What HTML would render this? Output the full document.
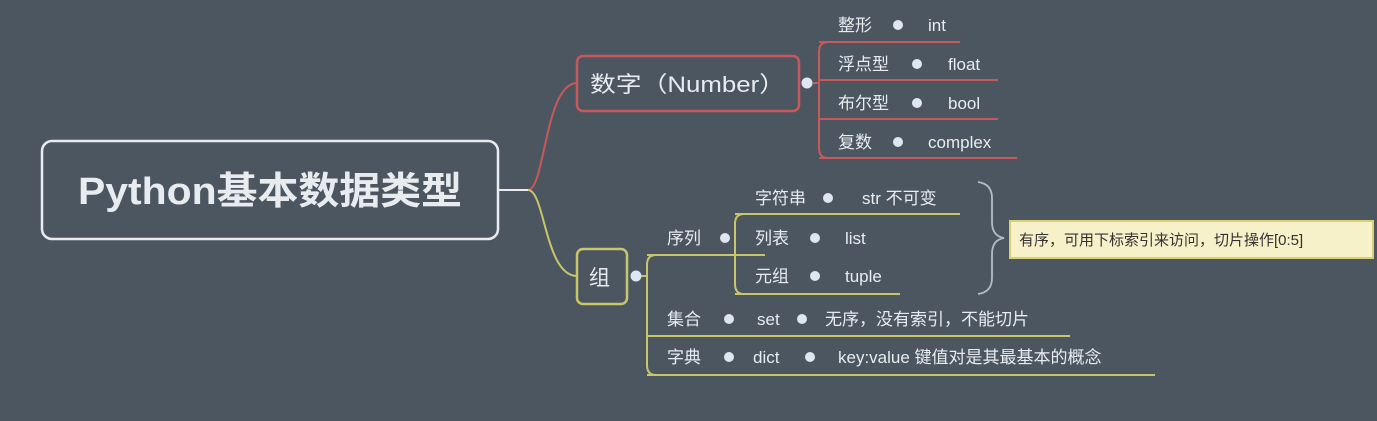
<!DOCTYPE html>
<html><head><meta charset="utf-8"><style>
html,body{margin:0;padding:0;background:#4b5661;}
svg{display:block}
text{font-family:"Liberation Sans","Noto Sans CJK SC",sans-serif;fill:#e8ecef;}
</style></head><body>
<svg width="1377" height="421" viewBox="0 0 1377 421">
<rect width="1377" height="421" fill="#4b5661"/>
<!-- main -->
<rect x="42" y="141" width="456" height="98" rx="10" fill="none" stroke="#e8ecef" stroke-width="2.5"/>
<text x="78" y="204" font-size="38" font-weight="bold" textLength="384" lengthAdjust="spacingAndGlyphs">Python基本数据类型</text>
<line x1="498" y1="190" x2="528" y2="190" stroke="#e8ecef" stroke-width="2"/>
<path d="M528 190 C545 190,545 83,577 83" fill="none" stroke="#c9585a" stroke-width="2"/>
<path d="M528 190 C545 190,545 276,577 276" fill="none" stroke="#c8c56a" stroke-width="2"/>
<!-- number -->
<rect x="577" y="56" width="222" height="55" rx="6" fill="none" stroke="#c9585a" stroke-width="2.5"/>
<text x="590" y="92" font-size="22" textLength="195" lengthAdjust="spacingAndGlyphs">数字（Number）</text>
<circle cx="807" cy="83" r="5.5" fill="#dfe6f2"/>
<path d="M813 83 H819 M828 42 Q819 42 819 52 V148 Q819 158 828 158" fill="none" stroke="#c9585a" stroke-width="2"/>
<path d="M819 42 H960 M819 80 H998 M819 119 H998 M819 158 H1017" fill="none" stroke="#c9585a" stroke-width="2"/>
<g font-size="17">
<text x="838" y="31">整形</text><circle cx="898" cy="25" r="5" fill="#dfe6f2"/><text x="928" y="31">int</text>
<text x="838" y="70">浮点型</text><circle cx="917" cy="64" r="5" fill="#dfe6f2"/><text x="948" y="70">float</text>
<text x="838" y="109">布尔型</text><circle cx="917" cy="103" r="5" fill="#dfe6f2"/><text x="948" y="109">bool</text>
<text x="838" y="148">复数</text><circle cx="898" cy="142" r="5" fill="#dfe6f2"/><text x="928" y="148">complex</text>
</g>
<!-- group -->
<rect x="577" y="249" width="50" height="55" rx="6" fill="none" stroke="#c8c56a" stroke-width="2.5"/>
<text x="589" y="285" font-size="21">组</text>
<circle cx="636" cy="276" r="5.5" fill="#dfe6f2"/>
<path d="M641 276 H647 M656 255 Q647 255 647 265 V365 Q647 375 656 375" fill="none" stroke="#c8c56a" stroke-width="2"/>
<path d="M647 255 H765 M744 214 Q735 214 735 224 V284 Q735 294 744 294 M735 214 H960 M735 294 H900 M647 336 H1070 M647 375 H1155" fill="none" stroke="#c8c56a" stroke-width="2"/>
<g font-size="17">
<text x="755" y="204">字符串</text><circle cx="828" cy="198" r="5" fill="#dfe6f2"/><text x="862" y="204">str 不可变</text>
<text x="667" y="244">序列</text><circle cx="725" cy="238" r="5" fill="#dfe6f2"/>
<text x="755" y="244">列表</text><circle cx="815" cy="238" r="5" fill="#dfe6f2"/><text x="845" y="244">list</text>
<text x="755" y="282">元组</text><circle cx="815" cy="276" r="5" fill="#dfe6f2"/><text x="845" y="282">tuple</text>
<text x="667" y="325">集合</text><circle cx="729" cy="319" r="5" fill="#dfe6f2"/><text x="757" y="325">set</text><circle cx="802" cy="319" r="5" fill="#dfe6f2"/><text x="825" y="325">无序，没有索引，不能切片</text>
<text x="667" y="363">字典</text><circle cx="729" cy="357" r="5" fill="#dfe6f2"/><text x="753" y="363">dict</text><circle cx="810" cy="357" r="5" fill="#dfe6f2"/><text x="838" y="363">key:value 键值对是其最基本的概念</text>
</g>
<!-- brace -->
<path d="M978 182 Q992 184 992 198 V222 Q992 236 1004 238 Q992 240 992 254 V278 Q992 292 978 294" fill="none" stroke="#b5bcc4" stroke-width="1.8"/>
<rect x="1010" y="221" width="363" height="37" fill="#f6f1c8" stroke="#d8cf74" stroke-width="2"/>
<text x="1019" y="245" font-size="15" style="fill:#333">有序，可用下标索引来访问，切片操作[0:5]</text>
</svg>
</body></html>
